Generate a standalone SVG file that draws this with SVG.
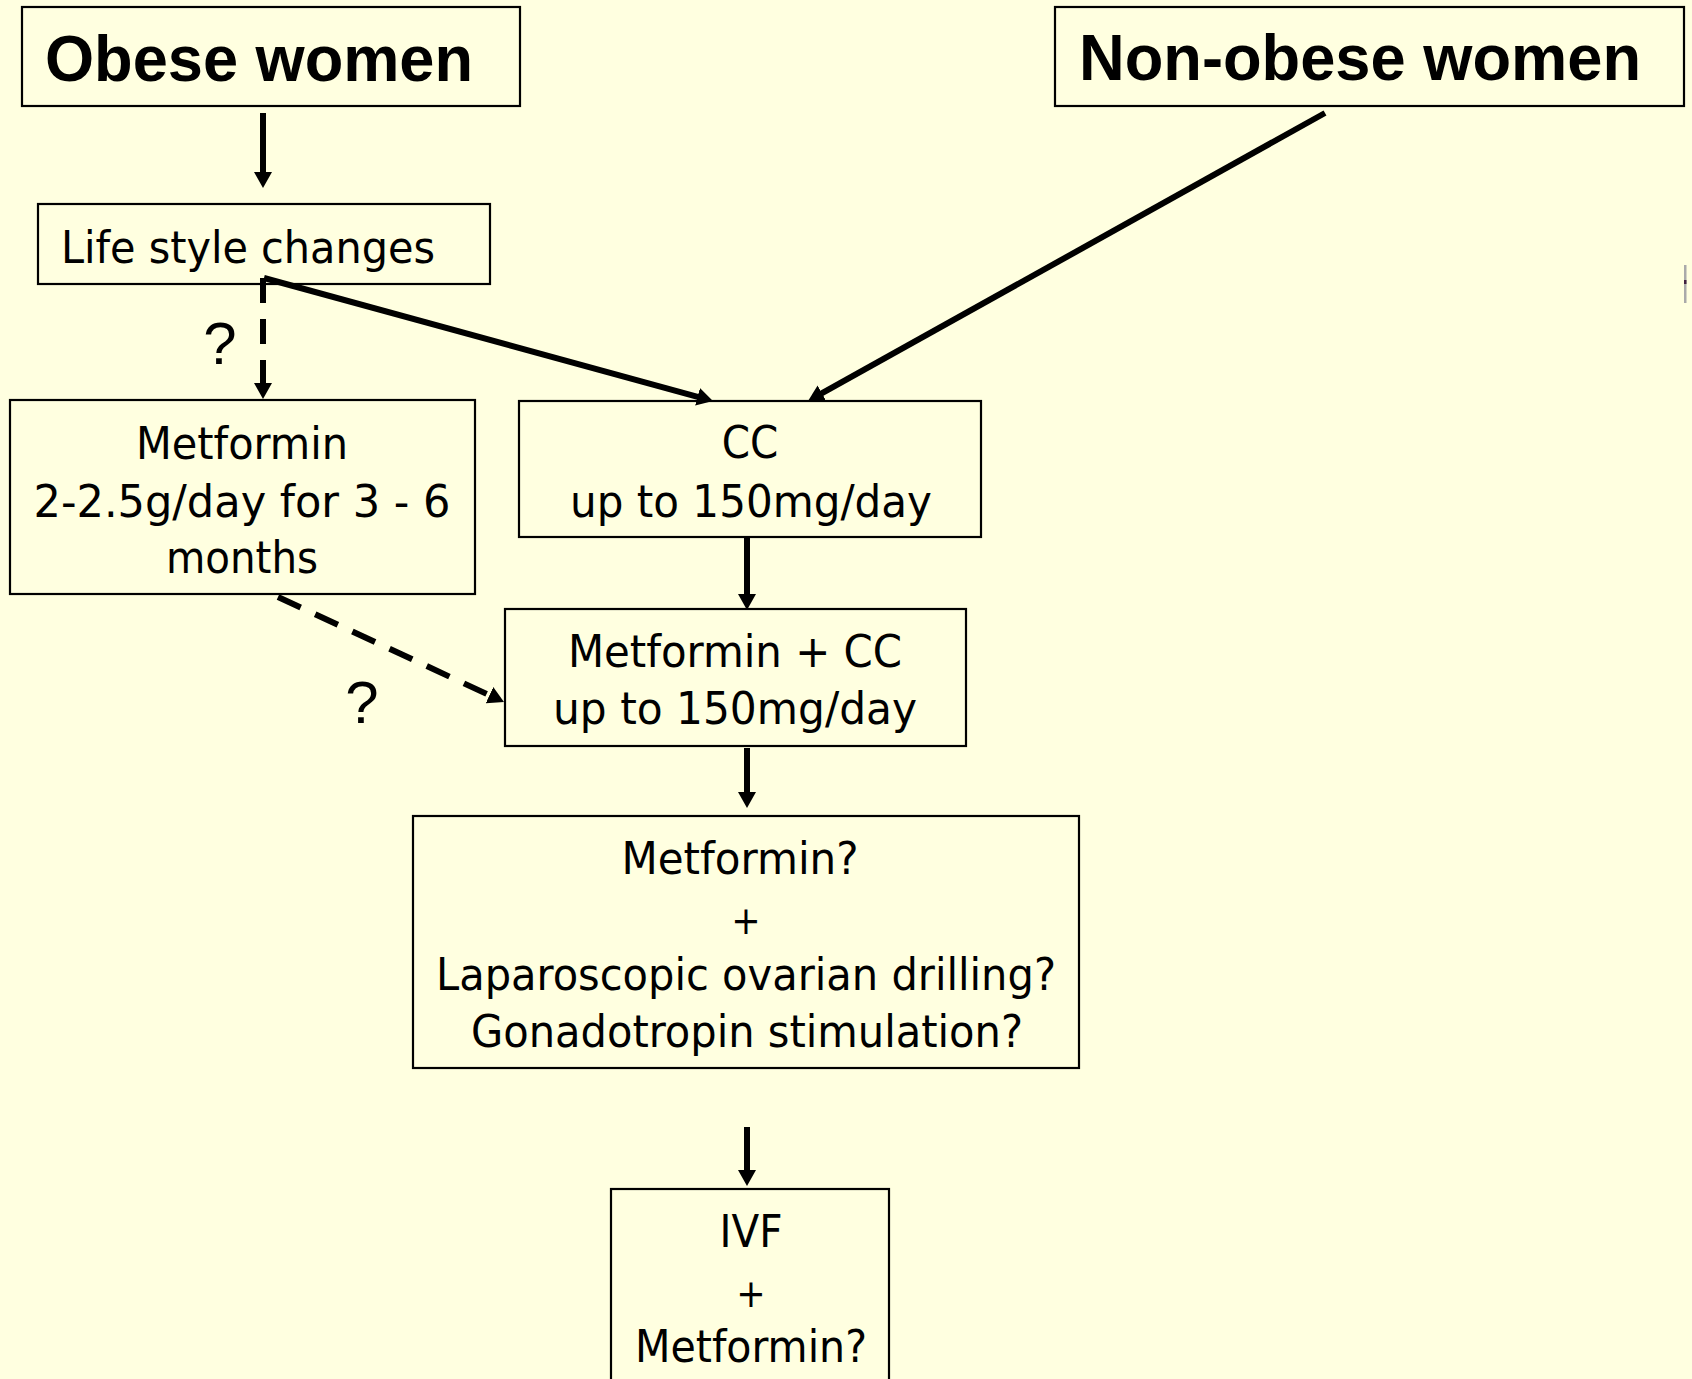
<svg xmlns="http://www.w3.org/2000/svg" width="1692" height="1379" viewBox="0 0 1692 1379">
<style>
.box{fill:none;stroke:#000;stroke-width:2.2}
.t{font-family:'DejaVu Sans Condensed','DejaVu Sans',sans-serif;font-size:45px;fill:#000;text-anchor:middle}
.p{font-family:'DejaVu Sans Condensed','DejaVu Sans',sans-serif;font-size:39px;fill:#000;text-anchor:middle}
.h{font-family:'Liberation Sans',Arial,sans-serif;font-weight:bold;font-size:65px;fill:#000}
.q{font-family:'Liberation Sans',Arial,sans-serif;font-size:60px;fill:#000;text-anchor:middle}
.c{fill:none;stroke:#000;stroke-width:6}
.d{stroke-dasharray:25 16}
</style>
<defs>
<marker id="ah" viewBox="0 0 16 18" markerWidth="16" markerHeight="18" refX="4" refY="9" orient="auto" markerUnits="userSpaceOnUse">
<path d="M0,0 L16,9 L0,18 z" fill="#000"/>
</marker>
</defs>
<rect x="0" y="0" width="1692" height="1379" fill="#FFFFE0"/>

<g id="obese">
<rect class="box" x="22" y="7" width="498" height="99"/>
<text class="h" x="45" y="81" textLength="428" lengthAdjust="spacingAndGlyphs">Obese women</text>
</g>
<g id="nonobese">
<rect class="box" x="1055" y="7" width="629" height="99"/>
<text class="h" x="1079" y="80" textLength="562" lengthAdjust="spacingAndGlyphs">Non-obese women</text>
</g>
<g id="lifestyle">
<rect class="box" x="38" y="204" width="452" height="80"/>
<text class="t" x="248" y="263" textLength="374" lengthAdjust="spacingAndGlyphs">Life style changes</text>
</g>
<g id="metformin">
<rect class="box" x="10" y="400" width="465" height="194"/>
<text class="t" x="242" y="459" textLength="212" lengthAdjust="spacingAndGlyphs">Metformin</text>
<text class="t" x="242" y="517" textLength="417" lengthAdjust="spacingAndGlyphs">2-2.5g/day for 3 - 6</text>
<text class="t" x="242" y="573" textLength="152" lengthAdjust="spacingAndGlyphs">months</text>
</g>
<g id="cc">
<rect class="box" x="519" y="401" width="462" height="136"/>
<text class="t" x="750" y="458">CC</text>
<text class="t" x="751" y="517" textLength="362" lengthAdjust="spacingAndGlyphs">up to 150mg/day</text>
</g>
<g id="metcc">
<rect class="box" x="505" y="609" width="461" height="137"/>
<text class="t" x="735" y="667" textLength="334" lengthAdjust="spacingAndGlyphs">Metformin + CC</text>
<text class="t" x="735" y="724" textLength="364" lengthAdjust="spacingAndGlyphs">up to 150mg/day</text>
</g>
<g id="second">
<rect class="box" x="413" y="816" width="666" height="252"/>
<text class="t" x="740" y="874" textLength="237" lengthAdjust="spacingAndGlyphs">Metformin?</text>
<text class="p" x="746" y="934">+</text>
<text class="t" x="746" y="990" textLength="620" lengthAdjust="spacingAndGlyphs">Laparoscopic ovarian drilling?</text>
<text class="t" x="747" y="1047" textLength="552" lengthAdjust="spacingAndGlyphs">Gonadotropin stimulation?</text>
</g>
<g id="ivf">
<rect class="box" x="611" y="1189" width="278" height="210"/>
<text class="t" x="751" y="1247">IVF</text>
<text class="p" x="751" y="1307">+</text>
<text class="t" x="751" y="1362" textLength="232" lengthAdjust="spacingAndGlyphs">Metformin?</text>
</g>

<g id="connectors">
<line class="c" x1="263" y1="113" x2="263" y2="176" marker-end="url(#ah)"/>
<line class="c d" x1="263" y1="278" x2="263" y2="387" marker-end="url(#ah)"/>
<line class="c" x1="264" y1="278" x2="701.4" y2="397.8" marker-end="url(#ah)"/>
<line class="c" x1="1325" y1="113" x2="818.5" y2="395.2" marker-end="url(#ah)"/>
<line class="c" x1="747" y1="537" x2="747" y2="598" marker-end="url(#ah)"/>
<line class="c d" x1="278" y1="597" x2="493.1" y2="696.9" marker-end="url(#ah)"/>
<line class="c" x1="747" y1="748" x2="747" y2="796" marker-end="url(#ah)"/>
<line class="c" x1="747" y1="1127" x2="747" y2="1174" marker-end="url(#ah)"/>
</g>
<g id="labels">
<text class="q" x="220" y="364">?</text>
<text class="q" x="362" y="723">?</text>
</g>
<rect x="1684" y="265" width="2.5" height="38" fill="#aaa"/>
<rect x="1684" y="280" width="2.5" height="4" fill="#402040"/>
</svg>
